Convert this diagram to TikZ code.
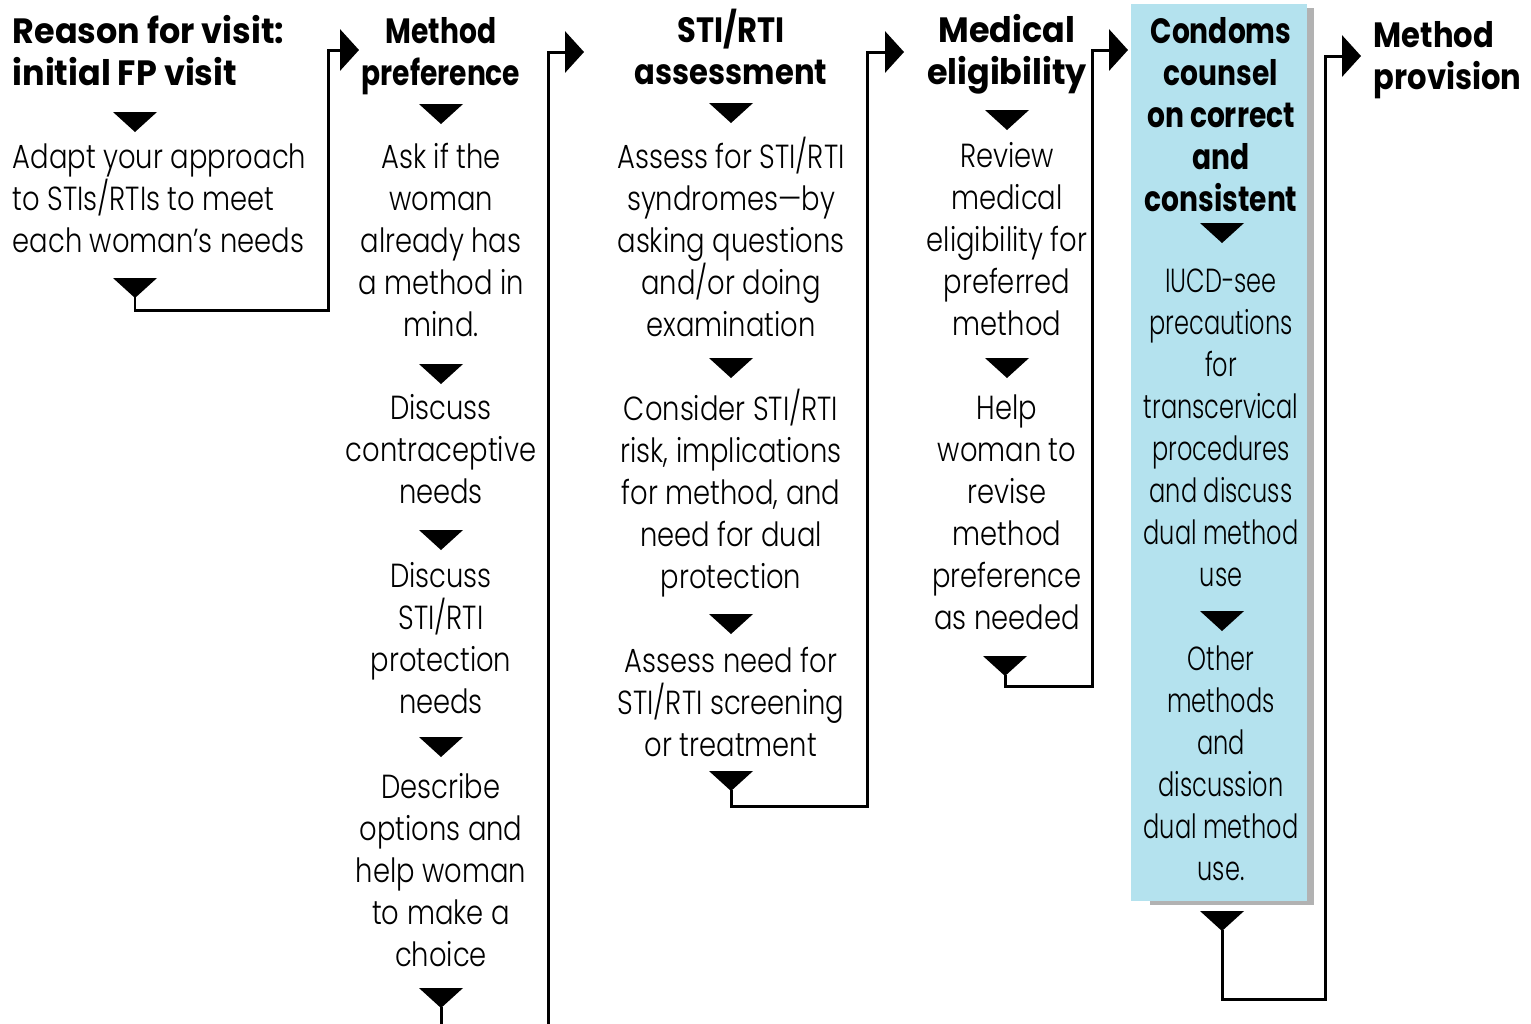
\documentclass[tikz,border=0pt]{standalone}
\usepackage{fontspec}
\usetikzlibrary{arrows.meta}
\IfFontExistsTF{Poppins Light}
  {\newfontfamily\bodyfont{Poppins}[UprightFont=* Light,FakeStretch=0.82]
   \newfontfamily\boxfont{Poppins}[UprightFont=* Light,FakeStretch=0.72]}
  {\newfontfamily\bodyfont{Poppins}[FakeStretch=0.82]
   \newfontfamily\boxfont{Poppins}[FakeStretch=0.72]}
\newfontfamily\headfont{Poppins}[FakeStretch=0.95]
\newfontfamily\midhead{Poppins}[FakeStretch=0.87]
\newfontfamily\narrowhead{Poppins}[FakeStretch=0.8]
\definecolor{boxblue}{RGB}{180,226,238}
\definecolor{shadowgray}{RGB}{178,178,178}

\tikzset{
  body/.style={font=\bodyfont\fontsize{9.5pt}{11.95pt}\selectfont,align=center,anchor=north,inner sep=0pt},
  boxbody/.style={body,font=\boxfont\fontsize{9.5pt}{11.95pt}\selectfont},
  head/.style={font=\headfont\bfseries\fontsize{10pt}{11.95pt}\selectfont,align=center,anchor=north,inner sep=0pt},
  midheadbox/.style={head,font=\midhead\bfseries\fontsize{10pt}{11.95pt}\selectfont},
  narrowheadbox/.style={head,font=\narrowhead\bfseries\fontsize{10pt}{11.95pt}\selectfont},
  flow/.style={line width=0.85pt,-{Triangle[width=11.7pt,length=5.4pt]}}
}

\begin{document}
\begin{tikzpicture}[x=0.01cm,y=-0.01cm]
        \useasboundingbox (0,0) rectangle (1531,1023);

        % Condoms box
        \fill[shadowgray] (1150,8) rectangle (1314,905);
        \fill[boxblue] (1131,4) rectangle (1307,901);

        % Headings
        \node[head,anchor=north west,align=left] (reason) at (12,15) {Reason for visit:\\initial FP visit};
        \node[narrowheadbox] (prefhead) at (441,17) {Method\\preference};
        \node[midheadbox] (stihead) at (731,8) {STI/RTI\\assessment};
        \node[head] (medhead) at (1007,14) {Medical\\eligibility};
        \node[narrowheadbox] (condhead) at (1221,17) {Condoms\\counsel\\on correct\\and\\consistent};
        \node[midheadbox,anchor=north west,align=left] (provhead) at (1373,21) {Method\\provision};

        % Steps
        \node[body,anchor=north west,align=left] (adapt) at (12,143) {Adapt your approach\\to STIs/RTIs to meet\\each woman’s needs};

        \node[body] (ask) at (441,142) {Ask if the\\woman\\already has\\a method in\\mind.};
        \node[body] (needs) at (441,394) {Discuss\\contraceptive\\needs};
        \node[body] (protect) at (441,562) {Discuss\\STI/RTI\\protection\\needs};
        \node[body] (choice) at (441,773) {Describe\\options and\\help woman\\to make a\\choice};

        \node[body] (syndr) at (731,136) {Assess for STI/RTI\\syndromes—by\\asking questions\\and/or doing\\examination};
        \node[body] (risk) at (731,388) {Consider STI/RTI\\risk, implications\\for method, and\\need for dual\\protection};
        \node[body] (screen) at (731,646) {Assess need for\\STI/RTI screening\\or treatment};

        \node[body] (review) at (1007,142) {Review\\medical\\eligibility for\\preferred\\method};
        \node[body] (revise) at (1007,394) {Help\\woman to\\revise\\method\\preference\\as needed};

        \node[boxbody] (iucd) at (1221,268) {IUCD-see\\precautions\\for\\transcervical\\procedures\\and discuss\\dual method\\use};
        \node[boxbody] (other) at (1221,645) {Other\\methods\\and\\discussion\\dual method\\use.};

        % Down triangles
        \foreach \x/\y in {135/112, 135/278, 441/104, 441/364, 441/530, 441/737, 441/988,
                           731/103, 731/358, 731/614, 731/771, 1007/110, 1007/358, 1005/656,
                           1222/223, 1222/611, 1222/911}
            \fill (\x-22,\y) -- (\x+22,\y) -- (\x,\y+20) -- cycle;

        % Ends and entries
        \coordinate (out1) at (135,297);
        \coordinate (out2) at (441,1007);
        \coordinate (out3) at (731,790);
        \coordinate (out4) at (1005,675);
        \coordinate (out5) at (1222,930);
        \coordinate (in2) at (359,50);
        \coordinate (in3) at (584,52);
        \coordinate (in4) at (904,52);
        \coordinate (in5) at (1128,50);
        \coordinate (in6) at (1361,56);

        \draw[flow] (out1) |- (328,310) |- (in2);
        \draw[flow] (out2) |- (548,1060) |- (in3);
        \draw[flow] (out3) |- (867,806) |- (in4);
        \draw[flow] (out4) |- (1092,686) |- (in5);
        \draw[flow] (out5) |- (1325,999) |- (in6);
    \end{tikzpicture}
\end{document}
